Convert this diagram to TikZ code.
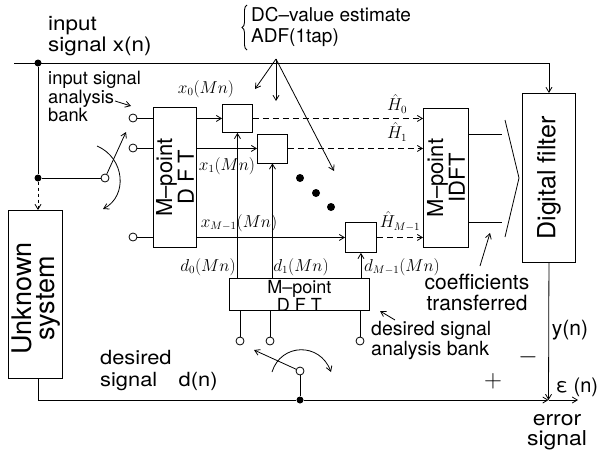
\documentclass[tikz,border=0pt]{standalone}
\usepackage{fontspec}
\setmainfont{TeX Gyre Heros}
\newfontfamily\widefont[FakeStretch=1.12]{TeX Gyre Heros}
\usetikzlibrary{arrows.meta,decorations.pathreplacing}
\begin{document}
\begin{tikzpicture}[x=1pt,y=-1pt,
  box/.style={draw, line width=0.9pt, anchor=north west, inner sep=0pt},
  ln/.style={line width=0.8pt},
  arr/.style={ln, -{Straight Barb[length=5pt,width=6pt]}},
  dsh/.style={arr, dash pattern=on 6pt off 4pt},
  term/.style={circle, draw, line width=0.8pt, fill=white, minimum size=8pt, inner sep=0pt},
  jdot/.style={circle, fill=black, minimum size=7pt, inner sep=0pt},
  bigdot/.style={circle, fill=black, minimum size=8pt, inner sep=0pt},
  lbl/.style={font=\fontsize{18}{19}\selectfont, inner sep=0pt, align=left},
  ml/.style={font=\fontsize{16}{18}\selectfont, inner sep=0pt},
]
\useasboundingbox (0,0) rectangle (599,455);

% boxes
\node[box, minimum width=54pt, minimum height=168pt] (us) at (8,210) {};
\node[box, minimum width=43pt, minimum height=140pt] (dftA) at (153,107) {};
\node[box, minimum width=30pt, minimum height=28pt] (b0) at (222,104) {};
\node[box, minimum width=30pt, minimum height=29pt] (b1) at (257,133.5) {};
\node[box, minimum width=31pt, minimum height=30pt] (bM) at (345,222) {};
\node[box, minimum width=45pt, minimum height=139pt] (idft) at (423,108) {};
\node[box, minimum width=53pt, minimum height=169pt] (df) at (522,93) {};
\node[box, minimum width=140pt, minimum height=32pt] (dftB) at (229,278) {};

% box texts
\node[rotate=90, align=center, inner sep=0pt, font=\fontsize{27}{23}\selectfont] (ust) at ([xshift=1pt,yshift=-4pt]us.center) {Unknown\\system};
\node[rotate=90, align=center, inner sep=0pt, font=\fontsize{22}{18}\selectfont] (dftAt) at (dftA.center) {M–point\\D F T};
\node[rotate=90, align=center, inner sep=0pt, font=\fontsize{22}{18}\selectfont] (idftt) at (idft.center) {M–point\\IDFT};
\node[rotate=90, inner sep=0pt, font=\fontsize{25}{25}\selectfont] (dft) at (df.center) {Digital filter};
\node[align=center, inner sep=0pt, font=\fontsize{18}{14}\selectfont] (dftBt) at ([yshift=-1.5pt]dftB.center) {M–point\\D F T};

% input line and junctions
\coordinate (xin) at (14,63);
\node[jdot] (j1) at (38,63) {};
\node[jdot] (j2) at (38,178) {};
\draw[arr] (xin) -| (df.north);
\draw[ln] (j1) -- (j2);
\draw[arr, dashed] (j2) -- (j2 |- us.north);

% left switch
\node[term] (sw1) at (105,178) {};
\draw[ln] (j2) -- (sw1);
\coordinate (sw1t) at (126,132);
\draw[arr] (sw1) -- (sw1t);
\coordinate (a1s) at (97,146);
\coordinate (a1e) at (103,209);
\draw[arr] (a1s) .. controls (125,158) and (128,196) .. (a1e);

% input terminals
\node[term] (c0) at (133,118) {};
\node[term] (c1) at (133,148) {};
\node[term] (c2) at (133,237) {};
\draw[ln] (c0) -- (c0 -| dftA.west);
\draw[ln] (c1) -- (c1 -| dftA.west);
\draw[ln] (c2) -- (c2 -| dftA.west);

% DFT outputs to ADF boxes
\draw[arr] (dftA.east |- b0.west) -- (b0.west);
\draw[arr] (dftA.east |- b1.west) -- (b1.west);
\draw[arr] (dftA.east |- bM.west) -- (bM.west);

% dashed to IDFT
\draw[dsh] (b0.east) -- (b0.east -| idft.west);
\draw[dsh] (b1.east) -- (b1.east -| idft.west);
\draw[dsh] (bM.east) -- (bM.east -| idft.west);

% IDFT outputs and funnel
\coordinate (o1) at (502,134);
\coordinate (o2) at (502,222);
\draw[ln] (idft.east |- o1) -- (o1);
\draw[ln] (idft.east |- o2) -- (o2);
\coordinate (f1) at (505,120);
\coordinate (f2) at (519,178);
\coordinate (f3) at (505,237);
\draw[ln] (f1) -- (f2) -- (f3);

% desired DFT to ADF boxes
\draw[arr] (dftB.north -| b0.south) -- (b0.south);
\draw[arr] (dftB.north -| b1.south) -- (b1.south);
\draw[arr] (dftB.north -| bM.south) -- (bM.south);

% bottom terminals
\node[term] (d0) at (240,341) {};
\node[term] (d1) at (270,341) {};
\node[term] (d2) at (360,341) {};
\draw[ln] (dftB.south -| d0) -- (d0);
\draw[ln] (dftB.south -| d1) -- (d1);
\draw[ln] (dftB.south -| d2) -- (d2);

% bottom switch
\node[term] (sw2) at (300,371) {};
\node[jdot] (jb) at (300,400) {};
\draw[ln] (sw2) -- (jb);
\coordinate (sw2t) at (254,350);
\draw[arr] (sw2) -- (sw2t);
\coordinate (a2s) at (272,372);
\coordinate (a2e) at (331,372);
\draw[arr] (a2s) .. controls (281,343) and (320,342) .. (a2e);

% desired signal path and error
\coordinate (ub) at (38,400);
\draw[ln] (us.south -| ub) -- (ub) -- (jb);
\coordinate (sum) at (548.5,400);
\coordinate (eout) at (578,400);
\draw[arr] (jb) -- (sum);
\draw[arr] (sum) -- (eout);
\draw[arr] (df.south) -- (sum);

% dots
\node[bigdot] (dd1) at (300,178) {};
\node[bigdot] (dd2) at (316,193) {};
\node[bigdot] (dd3) at (331,207) {};

% brace and annotation
\coordinate (bra) at (247,50);
\coordinate (brb) at (247,5);
\draw[line width=0.9pt, decorate, decoration={brace, amplitude=5pt}] (bra) -- (brb);
\node[lbl, anchor=west, font=\fontsize{19}{21}\selectfont] (dcl) at (251,27) {DC–value estimate\\ADF(1tap)};
\coordinate (ap) at (276,59);
\coordinate (t0) at (255,89);
\coordinate (t1) at (276,101);
\coordinate (t2) at (334,171);
\draw[arr] (ap) -- (t0);
\draw[arr] (ap) -- (t1);
\draw[arr] (ap) -- (t2);

% text labels
\node[lbl, anchor=west, font=\widefont\fontsize{20}{21}\selectfont] (inl) at (48,36) {input\\signal x(n)};
\node[lbl, anchor=north west, font=\fontsize{18.3}{18.5}\selectfont] (iab) at (48,71) {input signal\\analysis\\bank};
\coordinate (iaa) at (115,101);
\coordinate (iab2) at (131,106);
\draw[arr] (iaa) -- (iab2);

\node[lbl, anchor=west, font=\widefont\fontsize{19.5}{22}\selectfont] (dsl) at (100,371) {desired\\signal\hspace{1.1em}d(n)};
\node[lbl, anchor=west, font=\fontsize{19.5}{20}\selectfont] (dsab) at (371,341) {desired signal\\analysis bank};
\coordinate (dsa1) at (395,320);
\coordinate (dsa2) at (380,311);
\draw[arr] (dsa1) -- (dsa2);

\node[lbl, align=center, font=\fontsize{21}{21}\selectfont] (coef) at (477,292) {coefficients\\transferred};
\coordinate (co1) at (480,266);
\coordinate (co2) at (490,233);
\draw[arr] (co1) -- (co2);

\node[lbl, font=\fontsize{21}{21}\selectfont] (yn) at (570,330) {y(n)};
\node[inner sep=0pt, font=\fontsize{24}{24}\selectfont] (minus) at (528,357) {$-$};
\node[inner sep=0pt, font=\fontsize{28}{28}\selectfont] (plus) at (493,381) {$+$};
\node[lbl, font=\fontsize{20}{21}\selectfont] (eps) at (577,387) {ε (n)};
\node[lbl, align=center, font=\widefont\fontsize{20.5}{20}\selectfont] (errl) at (557,432) {error\\signal};

% math labels
\node[ml] (lx0) at (206,89) {$x_0(Mn)$};
\node[ml] (lx1) at (227,166) {$x_1(Mn)$};
\node[ml] (lxM) at (239,223) {$x_{M-1}(Mn)$};
\node[ml] (ld0) at (208,267) {$d_0(Mn)$};
\node[ml] (ld1) at (301,267) {$d_1(Mn)$};
\node[ml, anchor=west] (ldM) at (364,267) {$d_{M-1}(Mn)$};
\node[ml] (lh0) at (397,104) {$\hat H_0$};
\node[ml] (lh1) at (397,132) {$\hat H_1$};
\node[ml] (lhM) at (400,221) {$\hat H_{M-1}$};
\end{tikzpicture}
\end{document}
